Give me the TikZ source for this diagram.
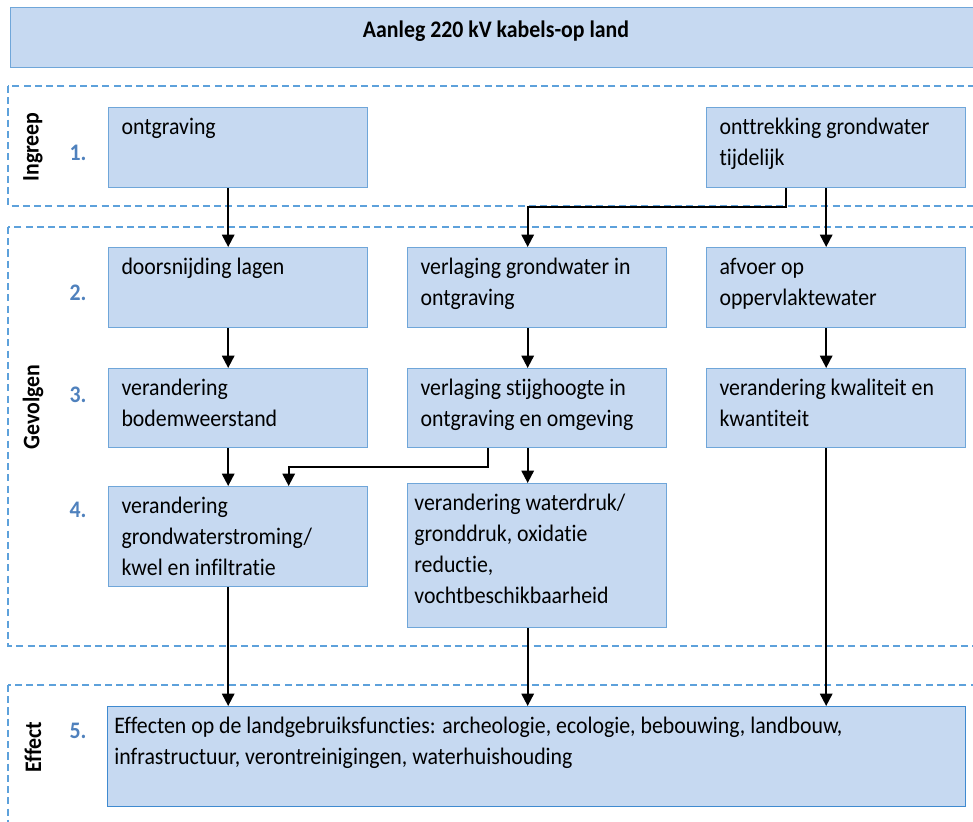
\documentclass[tikz,border=0pt]{standalone}
\usepackage{fontspec}
\setmainfont{Carlito}[FakeStretch=0.92, Ligatures=NoCommon]
\usetikzlibrary{arrows.meta}

\begin{document}
\begin{tikzpicture}[x=0.02cm, y=-0.02cm,
    font=\fontsize{13.5}{17.6}\selectfont,
    stap/.style={draw=randBlauw, fill=vulBlauw, line width=0.8pt, anchor=north west,
        minimum width=5.18cm, minimum height=1.6cm, inner sep=0pt},
    tekst/.style={anchor=north west, align=left, inner xsep=7.5pt, inner ysep=6pt},
    kader/.style={draw=kaderBlauw, line width=1pt, dash pattern=on 4pt off 2.4pt},
    fase/.style={rotate=90, font=\fontsize{13.5}{16}\selectfont\bfseries},
    nummer/.style={text=nummerBlauw, font=\fontsize{13.5}{16}\selectfont\bfseries},
    pijl/.style={draw=black, line width=1.1pt, -{Triangle[width=7pt,length=7pt]}}]
    \definecolor{randBlauw}{HTML}{6FA6D9}
    \definecolor{vulBlauw}{HTML}{C6D9F1}
    \definecolor{kaderBlauw}{HTML}{5DA1DB}
    \definecolor{nummerBlauw}{HTML}{4F81BD}
    \definecolor{effectRand}{HTML}{3F8AD0}

    \clip (0,0) rectangle (973,821);

    % Title
    \node[stap, minimum width=19.5cm, minimum height=1.2cm] (titel) at (10,7) {};
    \node[font=\fontsize{13.5}{16}\selectfont\bfseries] (titeltekst) at (496,31) {Aanleg 220 kV kabels-op land};

    % Dashed frames
    \draw[kader] (8,86) rectangle (990,206);
    \draw[kader] (8,227) rectangle (990,646);
    \draw[kader] (8,685) rectangle (990,840);

    % Frame labels and step numbers
    \node[fase] (ingreep) at (33,147) {Ingreep};
    \node[fase] (gevolgen) at (33,407) {Gevolgen};
    \node[fase] (effect) at (33,747) {Effect};
    \node[nummer] (n1) at (78,153) {1.};
    \node[nummer] (n2) at (78,293) {2.};
    \node[nummer] (n3) at (78,395) {3.};
    \node[nummer] (n4) at (78,510) {4.};
    \node[nummer] (n5) at (78,731) {5.};

    % 1. Ingreep
    \node[stap, label={[tekst]north west:ontgraving}] (ontgraving) at (108,107) {};
    \node[stap, label={[tekst]north west:onttrekking grondwater\\tijdelijk}] (onttrekking) at (706,107) {};

    % 2. - 4. Gevolgen
    \node[stap, label={[tekst]north west:doorsnijding lagen}] (doorsnijding) at (108,247) {};
    \node[stap, label={[tekst]north west:verlaging grondwater in\\ontgraving}] (verlaging) at (407,247) {};
    \node[stap, label={[tekst]north west:afvoer op\\oppervlaktewater}] (afvoer) at (706,247) {};

    \node[stap, minimum height=1.58cm, label={[tekst]north west:verandering\\bodemweerstand}] (bodem) at (108,368) {};
    \node[stap, minimum height=1.58cm, label={[tekst]north west:verlaging stijghoogte in\\ontgraving en omgeving}] (stijghoogte) at (407,368) {};
    \node[stap, minimum height=1.58cm, label={[tekst]north west:verandering kwaliteit en\\kwantiteit}] (kwaliteit) at (706,368) {};

    \node[stap, minimum height=2cm, label={[tekst]north west:verandering\\grondwaterstroming/\\kwel en infiltratie}] (stroming) at (108,486) {};
    \node[stap, minimum height=2.88cm, label={[tekst, inner xsep=4pt]north west:verandering waterdruk/\\gronddruk, oxidatie\\reductie,\\vochtbeschikbaarheid}] (waterdruk) at (407,483) {};

    % 5. Effect
    \node[stap, draw=effectRand, minimum width=17.16cm, minimum height=2cm,
        label={[tekst, inner xsep=4pt]north west:Effecten op de landgebruiksfuncties: archeologie, ecologie, bebouwing, landbouw,\\infrastructuur, verontreinigingen, waterhuishouding}] (effecten) at (107,706) {};

    % Arrows
    \draw[pijl] ([xshift=-0.2cm]ontgraving.south) -- ([xshift=-0.2cm]doorsnijding.north);
    \draw[pijl] ([xshift=-1.01cm]onttrekking.south) -- ++(0,19) -| ([xshift=-0.19cm]verlaging.north);
    \draw[pijl] ([xshift=-0.2cm]onttrekking.south) -- ([xshift=-0.2cm]afvoer.north);

    \draw[pijl] ([xshift=-0.2cm]doorsnijding.south) -- ([xshift=-0.2cm]bodem.north);
    \draw[pijl] ([xshift=-0.19cm]verlaging.south) -- ([xshift=-0.19cm]stijghoogte.north);
    \draw[pijl] ([xshift=-0.2cm]afvoer.south) -- ([xshift=-0.2cm]kwaliteit.north);

    \draw[pijl] ([xshift=-0.2cm]bodem.south) -- ([xshift=-0.2cm]stroming.north);
    \draw[pijl] ([xshift=-0.99cm]stijghoogte.south) -- ++(0,19) -| ([xshift=1.01cm]stroming.north);
    \draw[pijl] ([xshift=-0.19cm]stijghoogte.south) -- ([xshift=-0.19cm]waterdruk.north);

    \draw[pijl] ([xshift=-0.2cm]stroming.south) -- ([xshift=-0.2cm]stroming.south |- effecten.north);
    \draw[pijl] ([xshift=-0.19cm]waterdruk.south) -- ([xshift=-0.19cm]waterdruk.south |- effecten.north);
    \draw[pijl] ([xshift=-0.2cm]kwaliteit.south) -- ([xshift=-0.2cm]kwaliteit.south |- effecten.north);
\end{tikzpicture}
\end{document}
